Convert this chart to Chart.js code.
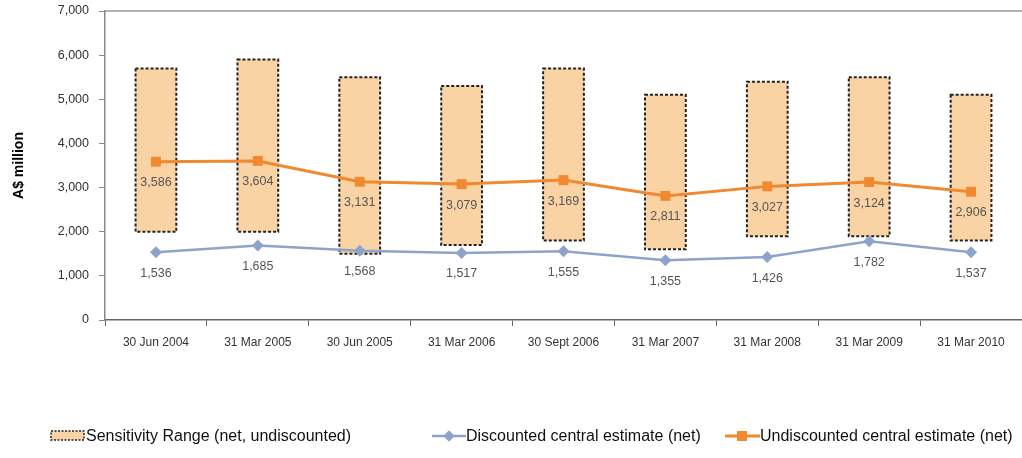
<!DOCTYPE html>
<html>
<head>
<meta charset="utf-8">
<script src="https://cdn.jsdelivr.net/npm/chart.js@4/dist/chart.umd.min.js"></script>
<style>
  body { margin: 0; background: #fff; }
  #wrap { position: relative; width: 1022px; height: 458px; overflow: hidden; }
  .legend-item {
    position: absolute; top: 427px; display: flex; align-items: center;
    font-family: "Liberation Sans", Arial, sans-serif; font-size: 16px; color: #111;
    white-space: nowrap;
  }
  .legend-item svg { display: block; }
</style>
</head>
<body>
<div id="wrap">
  <canvas id="chart" width="1022" height="458"></canvas>
  <div class="legend-item" style="left:50px">
    <svg width="36" height="12"><rect x="1" y="1" width="33" height="9" fill="#FAD3A5" stroke="#222" stroke-width="1.5" stroke-dasharray="2,1.5"/></svg>
    <span>Sensitivity Range (net, undiscounted)</span>
  </div>
  <div class="legend-item" style="left:432px">
    <svg width="34" height="12"><line x1="0" y1="6" x2="34" y2="6" stroke="#8EA3CA" stroke-width="2.5"/><rect x="13" y="2" width="8" height="8" fill="#8EA3CA" transform="rotate(45 17 6)"/></svg>
    <span>Discounted central estimate (net)</span>
  </div>
  <div class="legend-item" style="left:725px">
    <svg width="35" height="12"><line x1="0" y1="6" x2="35" y2="6" stroke="#F0892F" stroke-width="3"/><rect x="12" y="1" width="10" height="10" fill="#F0892F"/></svg>
    <span>Undiscounted central estimate (net)</span>
  </div>
</div>
<script>
const categories = ['30 Jun 2004', '31 Mar 2005', '30 Jun 2005', '31 Mar 2006', '30 Sept 2006',
  '31 Mar 2007', '31 Mar 2008', '31 Mar 2009', '31 Mar 2010'];
const rangeLow = [2000, 2000, 1500, 1700, 1800, 1600, 1900, 1900, 1800];
const rangeHigh = [5700, 5900, 5500, 5300, 5700, 5100, 5400, 5500, 5100];
const undiscounted = [3586, 3604, 3131, 3079, 3169, 2811, 3027, 3124, 2906];
const discounted = [1536, 1685, 1568, 1517, 1555, 1355, 1426, 1782, 1537];
const yTicks = [0, 1000, 2000, 3000, 4000, 5000, 6000, 7000];

const ORANGE = '#F0892F';
const BLUE = '#8EA3CA';
const FONT = '"Liberation Sans", Arial, sans-serif';

// dashed outline round the floating bars (Chart.js bars have no borderDash)
const dashedBars = {
  id: 'dashedBars',
  afterDatasetDraw(chart, args) {
    if (chart.data.datasets[args.index].type !== 'bar') return;
    const ctx = chart.ctx;
    ctx.save();
    ctx.strokeStyle = '#222';
    ctx.lineWidth = 2;
    ctx.setLineDash([3, 2]);
    args.meta.data.forEach(el => {
      const p = el.getProps(['x', 'y', 'base', 'width'], true);
      ctx.strokeRect(p.x - p.width / 2, p.y, p.width, p.base - p.y);
    });
    ctx.restore();
  }
};

// value labels under each point
const valueLabels = {
  id: 'valueLabels',
  afterDatasetsDraw(chart) {
    const ctx = chart.ctx;
    ctx.save();
    ctx.font = '12.5px ' + FONT;
    ctx.fillStyle = '#555';
    ctx.textAlign = 'center';
    ctx.textBaseline = 'middle';
    chart.data.datasets.forEach((ds, i) => {
      if (ds.type !== 'line') return;
      chart.getDatasetMeta(i).data.forEach((pt, j) => {
        ctx.fillText(ds.data[j].toLocaleString('en-US'), pt.x, pt.y + 21);
      });
    });
    ctx.restore();
  }
};

// top edge of the plot frame
const frameTop = {
  id: 'frameTop',
  beforeDatasetsDraw(chart) {
    const { ctx, chartArea } = chart;
    ctx.save();
    ctx.strokeStyle = '#999';
    ctx.lineWidth = 1.5;
    ctx.beginPath();
    ctx.moveTo(chartArea.left, chartArea.top);
    ctx.lineTo(chartArea.right, chartArea.top);
    ctx.stroke();
    ctx.restore();
  }
};

new Chart(document.getElementById('chart'), {
  type: 'bar',
  data: {
    labels: categories,
    datasets: [
      {
        type: 'line', label: 'Undiscounted central estimate (net)', data: undiscounted,
        borderColor: ORANGE, backgroundColor: ORANGE, borderWidth: 3, tension: 0,
        pointStyle: 'rect', pointRadius: 7, pointBorderWidth: 0, order: 1
      },
      {
        type: 'line', label: 'Discounted central estimate (net)', data: discounted,
        borderColor: BLUE, backgroundColor: BLUE, borderWidth: 2.5, tension: 0,
        pointStyle: 'rectRot', pointRadius: 6, pointBorderWidth: 0, order: 2
      },
      {
        type: 'bar', label: 'Sensitivity Range (net, undiscounted)',
        data: rangeLow.map((lo, i) => [lo, rangeHigh[i]]),
        backgroundColor: '#FAD3A5', borderWidth: 0,
        barPercentage: 1, categoryPercentage: 0.4, order: 3
      }
    ]
  },
  options: {
    responsive: false,
    animation: false,
    layout: { autoPadding: false, padding: { top: 11, right: -3, bottom: 108, left: 0 } },
    plugins: { legend: { display: false }, tooltip: { enabled: false } },
    scales: {
      x: {
        grid: { drawOnChartArea: false, drawTicks: true, tickLength: 6, offset: true, color: '#666' },
        border: { color: '#666', width: 1.5 },
        ticks: { font: { family: FONT, size: 12 }, color: '#333', padding: 9, maxRotation: 0 },
        afterFit(scale) {
          scale.height = 30;
          scale.paddingLeft = 0;
          scale.paddingRight = 0;
        }
      },
      y: {
        min: 0, max: 7000,
        afterBuildTicks(scale) { scale.ticks = yTicks.map(v => ({ value: v })); },
        ticks: {
          font: { family: FONT, size: 12.5 }, color: '#333', padding: 10,
          callback: v => v.toLocaleString('en-US')
        },
        grid: { drawOnChartArea: false, drawTicks: true, tickLength: 6, color: '#888' },
        border: { color: '#888', width: 1.5 },
        title: {
          display: true, text: 'A$ million', color: '#000',
          font: { family: FONT, size: 14, weight: 'bold' }, padding: { top: 11, bottom: 0 }
        },
        afterFit(scale) {
          scale.width = 105;
          scale.paddingTop = 0;
          scale.paddingBottom = 0;
        }
      }
    }
  },
  plugins: [dashedBars, valueLabels, frameTop]
});
</script>
</body>
</html>
